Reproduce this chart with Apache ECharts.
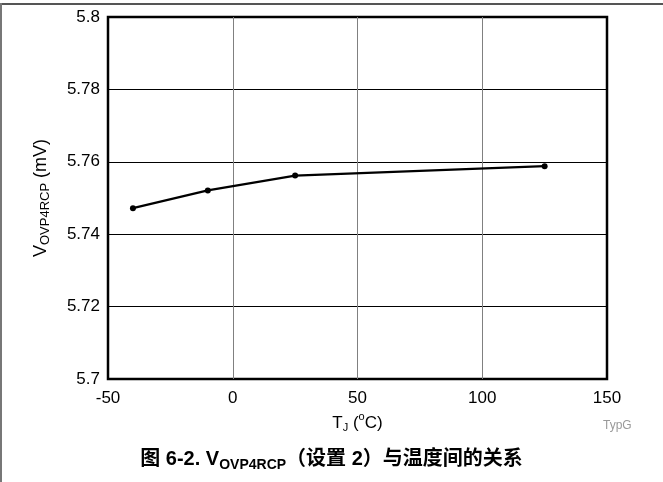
<!DOCTYPE html>
<html><head><meta charset="utf-8">
<script src="https://cdn.jsdelivr.net/npm/echarts@6/dist/echarts.min.js"></script>
<style>html,body{margin:0;padding:0;background:#fff}#c{width:663px;height:482px}</style>
</head><body><div id="c"></div>
<script>
const temps = [-40, -10, 25, 125];
const vovp = [5.7472, 5.7521, 5.7562, 5.7588];
const xTicks = {min: -50, max: 150, interval: 50};
const yTicks = {min: 5.7, max: 5.8, interval: 0.02};

const F = '"Liberation Sans", Arial, Helvetica, sans-serif';
const FC = '"Liberation Sans", "Noto Sans CJK SC", sans-serif';
const chart = echarts.init(document.getElementById('c'), null, {renderer: 'canvas'});
chart.setOption({
  animation: false,
  backgroundColor: '#fff',
  grid: {left: 108, top: 17, right: 56, bottom: 103, show: true, borderColor: '#000', borderWidth: 2.5, backgroundColor: 'transparent'},
  xAxis: {
    type: 'value', min: xTicks.min, max: xTicks.max, interval: xTicks.interval,
    axisLine: {show: false}, axisTick: {show: false},
    axisLabel: {color: '#000', fontSize: 17, fontFamily: F, margin: 11, formatter: v => String(v)},
    splitLine: {show: true, showMinLine: false, showMaxLine: false, lineStyle: {color: '#808080', width: 1}},
    name: '{a|T}{s|J}{a| (}{p|o}{a|C)}', nameLocation: 'middle', nameGap: 22,
    nameTextStyle: {fontFamily: F, color: '#000', rich: {
      a: {fontSize: 17, fontFamily: F, color: '#000', lineHeight: 22},
      s: {fontSize: 11, fontFamily: F, color: '#000', lineHeight: 22, verticalAlign: 'bottom', padding: [8,0,0,0]},
      p: {fontSize: 11, fontFamily: F, color: '#000', lineHeight: 22, verticalAlign: 'top', padding: [0,0,6,0]}
    }}
  },
  yAxis: {
    type: 'value', min: yTicks.min, max: yTicks.max, interval: yTicks.interval,
    axisLine: {show: false}, axisTick: {show: false},
    axisLabel: {color: '#000', fontSize: 17, fontFamily: F, margin: 8, formatter: v => String(parseFloat(v.toFixed(2)))},
    splitLine: {show: true, showMinLine: false, showMaxLine: false, lineStyle: {color: '#000', width: 1}},
    name: '{a|V}{s|OVP4RCP}{a| (mV)}', nameLocation: 'middle', nameGap: 56, nameRotate: 90,
    nameTextStyle: {fontFamily: F, color: '#000', rich: {
      a: {fontSize: 18, fontFamily: F, color: '#000', lineHeight: 22},
      s: {fontSize: 13, fontFamily: F, color: '#000', lineHeight: 22, verticalAlign: 'bottom', padding: [8,0,0,0]}
    }}
  },
  title: {
    text: '{a|图 6-2. V}{s|OVP4RCP}{a|（设置 2）与温度间的关系}',
    left: 'center', top: 441,
    textStyle: {rich: {
      a: {fontSize: 20, fontWeight: 'bold', fontFamily: FC, color: '#000', lineHeight: 26},
      s: {fontSize: 14, fontWeight: 'bold', fontFamily: FC, color: '#000', lineHeight: 26, verticalAlign: 'bottom', padding: [9,0,0,0]}
    }}
  },
  graphic: [
    {type: 'line', shape: {x1: 0, y1: 4, x2: 663, y2: 4}, style: {stroke: '#555', lineWidth: 2}},
    {type: 'line', shape: {x1: 1, y1: 3, x2: 1, y2: 482}, style: {stroke: '#777', lineWidth: 2}},
    {type: 'text', left: 603, top: 420, style: {text: 'TypG', fontSize: 12, fontFamily: F, fill: '#999'}}
  ],
  series: [{
    type: 'line', data: temps.map((t, i) => [t, vovp[i]]),
    symbol: 'circle', symbolSize: 6, showSymbol: true,
    lineStyle: {color: '#000', width: 2.2}, itemStyle: {color: '#000'}
  }]
});
</script></body></html>
